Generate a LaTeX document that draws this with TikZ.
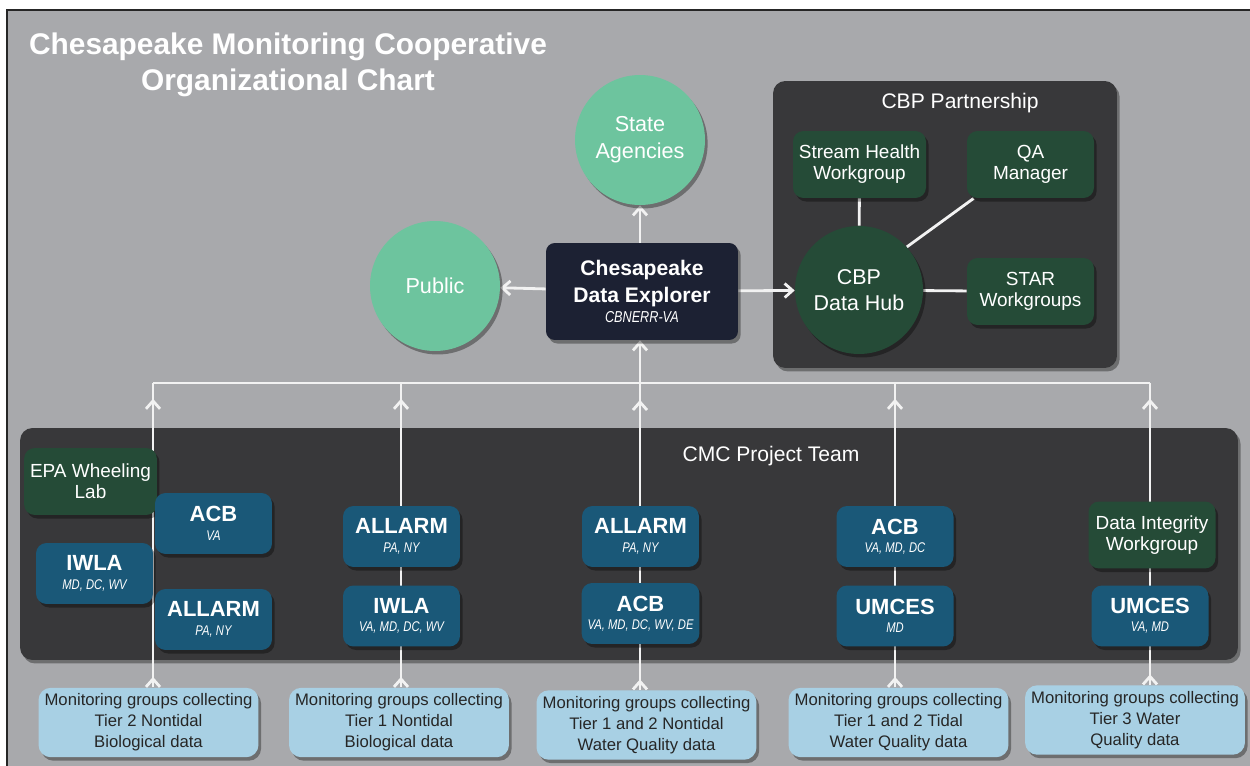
\documentclass[tikz,border=0pt]{standalone}
\usepackage{fontspec}
\setmainfont{Liberation Sans}
\newfontfamily\narrowfont[FakeStretch=0.8]{Liberation Sans}
\usetikzlibrary{arrows.meta,shapes,shadows,decorations.markings}
\pgfdeclarelayer{panel}
\pgfdeclarelayer{background}
\pgfsetlayers{panel,background,main}
\definecolor{bggray}{HTML}{A8A9AC}
\definecolor{panelgray}{HTML}{38383A}
\definecolor{mint}{HTML}{6DC49E}
\definecolor{cbpgreen}{HTML}{254B37}
\definecolor{explorernavy}{HTML}{1C2133}
\definecolor{cmcblue}{HTML}{1A5878}
\definecolor{srcblue}{HTML}{A8D0E4}
\definecolor{linkwhite}{HTML}{F2F2F2}
\newcommand{\subfont}{\narrowfont\mdseries\itshape\fontsize{8}{9}\selectfont}
\newcommand{\org}[2]{#1\\{\subfont #2}}
\tikzstyle{soft shadow}=[drop shadow={shadow xshift=1.5pt,shadow yshift=-2pt,opacity=0.35,fill=black}]
\tikzstyle{chart title}=[text=white,align=center,font=\bfseries\fontsize{17}{20.4}\selectfont]
\tikzstyle{panel}=[rectangle,rounded corners=7pt,fill=panelgray,soft shadow]
\tikzstyle{panel title}=[text=white,font=\fontsize{12}{14}\selectfont]
\tikzstyle{user circle}=[circle,fill=mint,text=white,align=center,minimum size=2.6cm,inner sep=0pt,font=\fontsize{12.3}{15.3}\selectfont,soft shadow]
\tikzstyle{hub}=[user circle,fill=cbpgreen,minimum size=2.56cm,font=\fontsize{12.2}{14.7}\selectfont]
\tikzstyle{explorer}=[rectangle,rounded corners=5pt,fill=explorernavy,text=white,align=center,minimum width=3.84cm,minimum height=1.94cm,font=\bfseries\fontsize{12}{15.3}\selectfont,soft shadow]
\tikzstyle{workgroup}=[rectangle,rounded corners=6pt,fill=cbpgreen,text=white,align=center,minimum width=2.54cm,minimum height=1.34cm,font=\fontsize{10.8}{12}\selectfont,soft shadow]
\tikzstyle{member}=[rectangle,rounded corners=6pt,fill=cmcblue,text=white,align=center,minimum width=2.34cm,minimum height=1.22cm,font=\bfseries\fontsize{12.5}{10.5}\selectfont,soft shadow]
\tikzstyle{data source}=[rectangle,rounded corners=7pt,fill=srcblue,text=black!85,align=center,minimum width=4.4cm,minimum height=1.38cm,font=\fontsize{9.5}{12}\selectfont,soft shadow]
\tikzstyle{link}=[draw=linkwhite,color=linkwhite,line width=1.6pt]
\tikzstyle{tip}=[-{Straight Barb[length=4.5pt,width=8pt]}]
\tikzstyle{feed}=[link,postaction={decorate},decoration={markings,
    mark=at position 6pt with {\arrow{Straight Barb[length=4.5pt,width=8pt]}},
    mark=at position -9pt with {\arrow{Straight Barb[length=4.5pt,width=8pt]}}}]
\tikzstyle{long feed}=[link,postaction={decorate},decoration={markings,
    mark=at position 6pt with {\arrow{Straight Barb[length=4.5pt,width=8pt]}},
    mark=at position 5.8cm with {\arrow{Straight Barb[length=4.5pt,width=8pt]}}}]

\begin{document}
\begin{tikzpicture}[x=0.02cm,y=-0.02cm]
    \useasboundingbox (0,0) rectangle (1250,766);
    \begin{pgfonlayer}{panel}
        % Frame and backdrop
        \fill[white] (0,0) rectangle (1250,766);
        \fill[bggray] (7,10) rectangle (1250,766);
        \draw[black!85,line width=0.8pt] (7,766) -- (7,10) -- (1250,10);
        % The two dark panels
        \node[panel,minimum width=6.88cm,minimum height=5.74cm] (cbp) at (945,224.5) {};
        \node[panel,minimum width=24.36cm,minimum height=4.64cm] (cmc) at (629,544) {};
    \end{pgfonlayer}

    % Title
    \node[chart title] (title) at (288,65) {Chesapeake Monitoring Cooperative\\Organizational Chart};
    \node[panel title] (cbp title) at (960,103) {CBP Partnership};
    \node[panel title] (cmc title) at (771,456) {CMC Project Team};

    % Users of the data
    \foreach \pos/\name/\txt in {{(640,140)/state/{State\\Agencies}}, {(435,286)/public/Public}}
        \node[user circle] (\name) at \pos {\txt};
    \node[explorer] (explorer) at (642,291.5) {Chesapeake\\Data Explorer\\[-4pt]{\subfont\fontsize{9}{10}\selectfont CBNERR-VA}};
    \node[hub] (hub) at (859,290) {CBP\\Data Hub};

    % Workgroups
    \foreach \pos/\name/\txt in {{(859.5,164.5)/stream/{Stream Health\\Workgroup}}, {(1030.5,164.5)/qa/{QA\\Manager}},
        {(1030.5,291.5)/star/{STAR\\Workgroups}}, {(90.5,481.5)/epa/{EPA Wheeling\\Lab}}, {(1152,535)/integrity/{Data Integrity\\Workgroup}}}
        \node[workgroup] (\name) at \pos {\txt};

    % Project team members
    \foreach \pos/\name/\who/\where in {{(213.5,523.5)/acbA/ACB/VA}, {(94.5,573.5)/iwlaA/IWLA/{MD, DC, WV}}, {(213.5,619.5)/allarmA/ALLARM/{PA, NY}},
        {(401.5,536.5)/allarmB/ALLARM/{PA, NY}}, {(401.5,616)/iwlaB/IWLA/{VA, MD, DC, WV}},
        {(640.5,536.5)/allarmC/ALLARM/{PA, NY}}, {(640.5,613.5)/acbC/ACB/{VA, MD, DC, WV, DE}},
        {(895,536.5)/acbD/ACB/{VA, MD, DC}}, {(895,616)/umcesD/UMCES/MD}, {(1150,616)/umcesE/UMCES/{VA, MD}}}
        \node[member] (\name) at \pos {\org{\who}{\where}};

    % Monitoring groups
    \foreach \pos/\name/\tier/\kind in {{(148.5,722.5)/srcA/Tier 2 Nontidal/Biological data}, {(399,722.5)/srcB/Tier 1 Nontidal/Biological data},
        {(646.5,725)/srcC/Tier 1 and 2 Nontidal/Water Quality data}, {(898.5,722.5)/srcD/Tier 1 and 2 Tidal/Water Quality data},
        {(1135,720)/srcE/Tier 3 Water/Quality data}}
        \node[data source] (\name) at \pos {Monitoring groups collecting\\\tier\\\kind};

    % Bus junctions
    \foreach \name/\x in {busA/153, busB/401, busC/640, busD/895, busE/1150}
        \coordinate (\name) at (\x,383);

    % Connect everything
    \begin{pgfonlayer}{background}
        \draw[link] (busA) -- (busE);
        \foreach \src/\bus in {srcA/busA, srcB/busB, srcD/busD, srcE/busE}
            \path[feed] (\bus |- \src.north) -- (\bus);
        \path[long feed,tip] (busC |- srcC.north) -- (explorer.south -| busC);
        \draw[link,tip] (explorer.north -| state) -- (state.south);
        \draw[link,tip] (explorer) -- (public);
        \draw[link,tip] (explorer) -- (hub);
        \draw[link] (stream) -- (hub);
        \draw[link] (hub.42) -- ([xshift=4pt]qa.south west);
        \draw[link] (hub) -- (star);
    \end{pgfonlayer}
\end{tikzpicture}
\end{document}
